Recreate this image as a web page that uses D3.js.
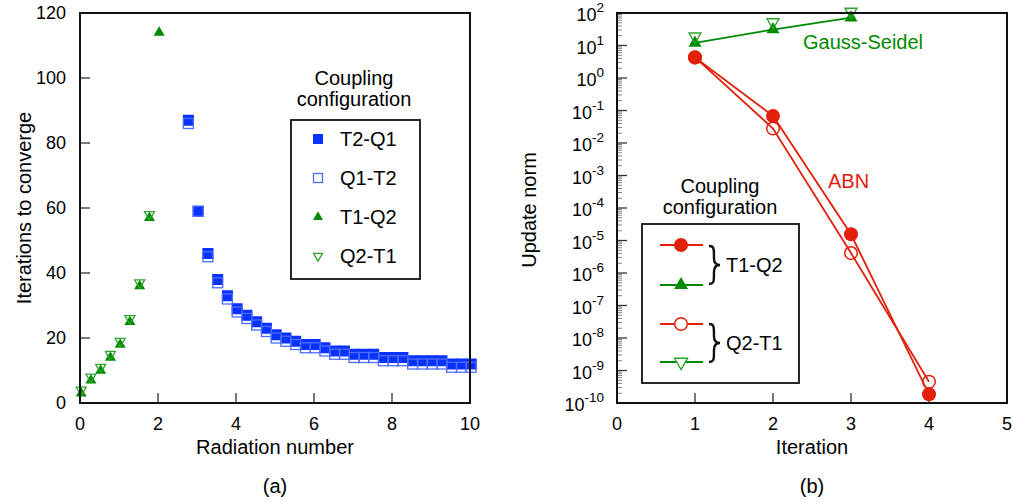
<!DOCTYPE html>
<html>
<head>
<meta charset="utf-8">
<script src="https://cdn.jsdelivr.net/npm/d3@7"></script>
<style>
  html, body { margin: 0; padding: 0; background: #fff; }
  svg { display: block; font-family: "Liberation Sans", Arial, Helvetica, sans-serif; }
</style>
</head>
<body>
<svg id="chart" width="1013" height="502"></svg>
<script>
// ---------- Panel (a) data ----------
const t1q2X = [0.03, 0.28, 0.53, 0.78, 1.03, 1.28, 1.53, 1.78, 2.03];
const t1q2Y = [3, 7, 10, 14, 18, 25, 36, 57, 114];
const q2t1X = [0.03, 0.28, 0.53, 0.78, 1.03, 1.28, 1.53, 1.78];
const q2t1Y = [4, 8, 11, 15, 19, 26, 37, 58];
const squareX = [2.78, 3.03, 3.28, 3.53, 3.78, 4.03, 4.28, 4.53, 4.78, 5.03,
                 5.28, 5.53, 5.78, 6.03, 6.28, 6.53, 6.78, 7.03, 7.28, 7.53,
                 7.78, 8.03, 8.28, 8.53, 8.78, 9.03, 9.28, 9.53, 9.78, 10.03];
const t2q1Y = [87, 59, 46, 38, 33, 29, 27, 25, 23, 21,
               20, 19, 18, 18, 17, 16, 16, 15, 15, 15,
               14, 14, 14, 13, 13, 13, 13, 12, 12, 12];
const q1t2Y = [86, 59, 45, 37, 32, 28, 26, 24, 22, 20,
               19, 18, 17, 17, 16, 15, 15, 14, 14, 14,
               13, 13, 13, 12, 12, 12, 12, 11, 11, 11];
const xTicksA = [0, 2, 4, 6, 8, 10];
const yTicksA = [0, 20, 40, 60, 80, 100, 120];
const legendA = ["T2-Q1", "Q1-T2", "T1-Q2", "Q2-T1"];

// ---------- Panel (b) data ----------
const iterGS = [1, 2, 3];
const gsT1Q2 = [12, 31, 72];
const gsQ2T1 = [19, 52, 110];
const iterABN = [1, 2, 3, 4];
const abnT1Q2 = [4.3, 0.068, 1.55e-5, 1.85e-10];
const abnQ2T1 = [4.3, 0.028, 4.1e-6, 4.5e-10];
const xTicksB = [0, 1, 2, 3, 4, 5];
const yExpB = [2, 1, 0, -1, -2, -3, -4, -5, -6, -7, -8, -9, -10];

// ---------- styles ----------
const BLUE = "#0a32ff", BLUE_OPEN = "#4d6dff";
const GREEN = "#008a00", GREEN_OPEN = "#2fa52f";
const RED = "#e2200c";
const FS = 18;   // tick labels
const FT = 20;   // titles / legend text

const svg = d3.select("#chart");

function frame(x0, y0, x1, y1) {
  svg.append("rect").attr("x", x0).attr("y", y0)
    .attr("width", x1 - x0).attr("height", y1 - y0)
    .attr("fill", "none").attr("stroke", "#111").attr("stroke-width", 2);
}
const tri = (w) => d3.symbol(d3.symbolTriangle, Math.sqrt(3) / 4 * w * w)();

// ================= Panel (a) =================
const ax = d3.scaleLinear().domain([0, 10]).range([80, 470]);
const ay = d3.scaleLinear().domain([0, 120]).range([403, 13]);

const gA = svg.append("g");
gA.selectAll(".ytA").data(yTicksA.slice(1, -1)).join("line")
  .attr("x1", ax(0)).attr("x2", ax(0) + 10)
  .attr("y1", d => ay(d)).attr("y2", d => ay(d))
  .attr("stroke", "#333").attr("stroke-width", 1.3);
gA.selectAll(".xtA").data(xTicksA.slice(1, -1)).join("line")
  .attr("x1", d => ax(d)).attr("x2", d => ax(d))
  .attr("y1", ay(0)).attr("y2", ay(0) - 10)
  .attr("stroke", "#333").attr("stroke-width", 1.3);
gA.selectAll(".ylA").data(yTicksA).join("text")
  .attr("x", ax(0) - 14).attr("y", d => ay(d)).attr("dy", "0.35em")
  .attr("text-anchor", "end").attr("font-size", FS).text(d => d);
gA.selectAll(".xlA").data(xTicksA).join("text")
  .attr("x", d => ax(d)).attr("y", 430)
  .attr("text-anchor", "middle").attr("font-size", FS).text(d => d);

gA.selectAll(".t2q1").data(squareX).join("rect")
  .attr("x", (d) => ax(d) - 5.5).attr("y", (d, i) => ay(t2q1Y[i]) - 5.5)
  .attr("width", 11).attr("height", 11).attr("fill", BLUE);
gA.selectAll(".q1t2").data(squareX).join("rect")
  .attr("x", (d) => ax(d) - 5).attr("y", (d, i) => ay(q1t2Y[i]) - 5)
  .attr("width", 10).attr("height", 10).attr("fill", "none")
  .attr("stroke", BLUE_OPEN).attr("stroke-width", 1.3);
gA.selectAll(".t1q2").data(t1q2X).join("path")
  .attr("d", tri(11))
  .attr("transform", (d, i) => `translate(${ax(d)},${ay(t1q2Y[i])})`)
  .attr("fill", GREEN);
gA.selectAll(".q2t1").data(q2t1X).join("path")
  .attr("d", tri(10))
  .attr("transform", (d, i) => `translate(${ax(d)},${ay(q2t1Y[i])}) rotate(180)`)
  .attr("fill", "none").attr("stroke", GREEN_OPEN).attr("stroke-width", 1.3);

frame(80, 13, 470, 403);

gA.append("text").attr("x", 354).attr("y", 85).attr("text-anchor", "middle")
  .attr("font-size", FT).text("Coupling");
gA.append("text").attr("x", 354).attr("y", 106).attr("text-anchor", "middle")
  .attr("font-size", FT).text("configuration");
gA.append("rect").attr("x", 291).attr("y", 120).attr("width", 129).attr("height", 159)
  .attr("fill", "none").attr("stroke", "#111").attr("stroke-width", 1.8);
const legRowsA = [139, 178, 217, 256];
const legA = gA.selectAll(".legA").data(legendA).join("g")
  .attr("transform", (d, i) => `translate(318,${legRowsA[i]})`);
legA.append("text").attr("x", 22).attr("dy", "0.35em").attr("font-size", FT).text(d => d);
legA.filter((d, i) => i === 0).append("rect")
  .attr("x", -5).attr("y", -5).attr("width", 10).attr("height", 10).attr("fill", BLUE);
legA.filter((d, i) => i === 1).append("rect")
  .attr("x", -4.5).attr("y", -4.5).attr("width", 9).attr("height", 9)
  .attr("fill", "none").attr("stroke", BLUE_OPEN).attr("stroke-width", 1.3);
legA.filter((d, i) => i === 2).append("path").attr("d", tri(10)).attr("fill", GREEN);
legA.filter((d, i) => i === 3).append("path").attr("d", tri(9))
  .attr("transform", "rotate(180)").attr("fill", "none")
  .attr("stroke", GREEN_OPEN).attr("stroke-width", 1.3);

svg.append("text").attr("transform", "translate(31,208) rotate(-90)")
  .attr("text-anchor", "middle").attr("font-size", FT).text("Iterations to converge");
svg.append("text").attr("x", 275).attr("y", 454).attr("text-anchor", "middle")
  .attr("font-size", FT).text("Radiation number");
svg.append("text").attr("x", 275).attr("y", 493).attr("text-anchor", "middle")
  .attr("font-size", FT).text("(a)");

// ================= Panel (b) =================
const bx = d3.scaleLinear().domain([0, 5]).range([617, 1007]);
const by = d3.scaleLog().domain([1e-10, 1e2]).range([403, 13]);
const gB = svg.append("g");

const minor = [];
yExpB.slice(1).forEach(e => { for (let m = 2; m <= 9; m++) minor.push(m * Math.pow(10, e)); });
gB.selectAll(".minB").data(minor).join("line")
  .attr("x1", bx(0)).attr("x2", bx(0) + 5)
  .attr("y1", d => by(d)).attr("y2", d => by(d))
  .attr("stroke", "#666").attr("stroke-width", 0.8);
gB.selectAll(".majB").data(yExpB).join("line")
  .attr("x1", bx(0)).attr("x2", bx(0) + 10)
  .attr("y1", d => by(Math.pow(10, d))).attr("y2", d => by(Math.pow(10, d)))
  .attr("stroke", "#333").attr("stroke-width", 1.3);
gB.selectAll(".xtB").data(xTicksB.slice(1, -1)).join("line")
  .attr("x1", d => bx(d)).attr("x2", d => bx(d))
  .attr("y1", 403).attr("y2", 393)
  .attr("stroke", "#333").attr("stroke-width", 1.3);
const ylB = gB.selectAll(".ylB").data(yExpB).join("text")
  .attr("x", 604).attr("y", d => by(Math.pow(10, d)) + 8)
  .attr("text-anchor", "end").attr("font-size", FS);
ylB.append("tspan").text("10");
ylB.append("tspan").attr("dy", -9).attr("font-size", 13.5).text(d => d < 0 ? "-" + (-d) : d);
gB.selectAll(".xlB").data(xTicksB).join("text")
  .attr("x", d => bx(d)).attr("y", 430)
  .attr("text-anchor", "middle").attr("font-size", FS).text(d => d);

const lineB = d3.line().x(d => bx(d[0])).y(d => by(d[1]));
const series = [
  { x: iterGS, y: gsT1Q2, c: GREEN },
  { x: iterABN, y: abnT1Q2, c: RED },
  { x: iterABN, y: abnQ2T1, c: RED }
];
gB.selectAll(".lnB").data(series).join("path")
  .attr("d", s => lineB(s.x.map((v, i) => [v, s.y[i]])))
  .attr("fill", "none").attr("stroke", s => s.c).attr("stroke-width", 1.8);

gB.selectAll(".gsF").data(iterGS).join("path").attr("d", tri(13))
  .attr("transform", (d, i) => `translate(${bx(d)},${by(gsT1Q2[i])})`).attr("fill", GREEN);
gB.selectAll(".gsO").data(iterGS).join("path").attr("d", tri(12))
  .attr("transform", (d, i) => `translate(${bx(d)},${by(gsQ2T1[i])}) rotate(180)`)
  .attr("fill", "none").attr("stroke", GREEN_OPEN).attr("stroke-width", 1.4);
gB.selectAll(".abF").data(iterABN).join("circle")
  .attr("cx", d => bx(d)).attr("cy", (d, i) => by(abnT1Q2[i])).attr("r", 7).attr("fill", RED);
gB.selectAll(".abO").data(iterABN).join("circle")
  .attr("cx", d => bx(d)).attr("cy", (d, i) => by(abnQ2T1[i])).attr("r", 6.3)
  .attr("fill", "none").attr("stroke", RED).attr("stroke-width", 1.5);

frame(617, 13, 1007, 403);

gB.append("text").attr("x", 803).attr("y", 49).attr("font-size", FT)
  .attr("fill", GREEN).text("Gauss-Seidel");
gB.append("text").attr("x", 828).attr("y", 188).attr("font-size", FT)
  .attr("fill", RED).text("ABN");

gB.append("text").attr("x", 720).attr("y", 193).attr("text-anchor", "middle")
  .attr("font-size", FT).text("Coupling");
gB.append("text").attr("x", 720).attr("y", 214).attr("text-anchor", "middle")
  .attr("font-size", FT).text("configuration");
gB.append("rect").attr("x", 642).attr("y", 224).attr("width", 157).attr("height", 159)
  .attr("fill", "none").attr("stroke", "#111").attr("stroke-width", 1.8);
const legRowsB = [245, 285, 324, 362];
const legColors = [RED, GREEN, RED, GREEN];
const legB = gB.selectAll(".legB").data(legRowsB).join("g")
  .attr("transform", d => `translate(681,${d})`);
legB.append("line").attr("x1", -21).attr("x2", 22)
  .attr("stroke", (d, i) => legColors[i]).attr("stroke-width", 1.8);
legB.filter((d, i) => i === 0).append("circle").attr("r", 7).attr("fill", RED);
legB.filter((d, i) => i === 1).append("path").attr("d", tri(14)).attr("fill", GREEN);
legB.filter((d, i) => i === 2).append("circle").attr("r", 6.3).attr("fill", "#fff")
  .attr("stroke", RED).attr("stroke-width", 1.5);
legB.filter((d, i) => i === 3).append("path").attr("d", tri(13)).attr("transform", "rotate(180)")
  .attr("fill", "#fff").attr("stroke", GREEN_OPEN).attr("stroke-width", 1.4);

function brace(x, y0, y1, w) {
  const m = (y0 + y1) / 2, xm = x + w * 0.45;
  return `M${x},${y0} C${x + w * 0.4},${y0} ${xm},${y0 + 2} ${xm},${y0 + 8} L${xm},${m - 7}` +
    ` C${xm},${m - 2} ${x + w * 0.7},${m} ${x + w},${m}` +
    ` C${x + w * 0.7},${m} ${xm},${m + 2} ${xm},${m + 7} L${xm},${y1 - 8}` +
    ` C${xm},${y1 - 2} ${x + w * 0.4},${y1} ${x},${y1}`;
}
gB.append("path").attr("d", brace(709, 246, 284, 11))
  .attr("fill", "none").attr("stroke", "#111").attr("stroke-width", 2.4);
gB.append("path").attr("d", brace(709, 324, 362, 11))
  .attr("fill", "none").attr("stroke", "#111").attr("stroke-width", 2.4);
gB.append("text").attr("x", 726).attr("y", 272).attr("font-size", FT).text("T1-Q2");
gB.append("text").attr("x", 726).attr("y", 350).attr("font-size", FT).text("Q2-T1");

svg.append("text").attr("transform", "translate(536,210) rotate(-90)")
  .attr("text-anchor", "middle").attr("font-size", FT).text("Update norm");
svg.append("text").attr("x", 812).attr("y", 454).attr("text-anchor", "middle")
  .attr("font-size", FT).text("Iteration");
svg.append("text").attr("x", 812).attr("y", 493).attr("text-anchor", "middle")
  .attr("font-size", FT).text("(b)");
</script>
</body>
</html>
